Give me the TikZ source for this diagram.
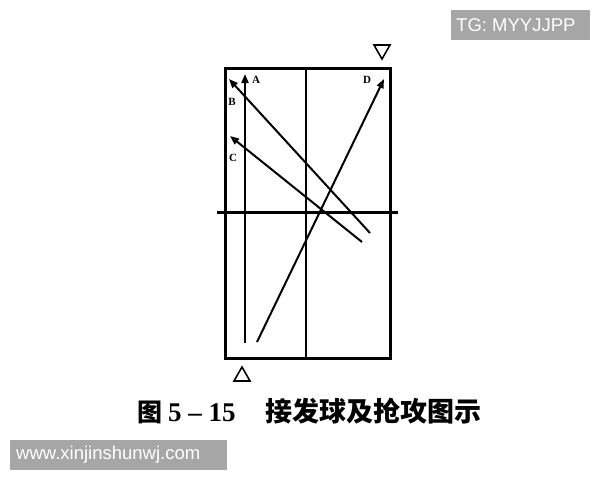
\documentclass[tikz,border=0pt]{standalone}
\usepackage{fontspec}
\setmainfont{Liberation Serif}
\newfontfamily\cjk{Noto Sans CJK SC}
\newfontfamily\wm{Liberation Sans}
\usetikzlibrary{arrows.meta}
\tikzset{
  shot/.style={line width=2pt,-{Triangle[length=9pt,width=7pt]}},
  lbl/.style={font=\bfseries\fontsize{11}{11}\selectfont,inner sep=0pt},
  wmbox/.style={text=white,font=\wm\fontsize{18.5}{18.5}\selectfont,inner sep=0pt,anchor=west}
}
\begin{document}
\begin{tikzpicture}[x=1pt,y=-1pt]
\useasboundingbox (0,0) rectangle (600,480);
% table
\draw[line width=3pt] (225,68) rectangle (390,358);
\draw[line width=1.6pt] (306,68) -- (306,358);
\draw[line width=3pt] (217,212) -- (398,212);
% markers
\draw[line width=1.6pt] (374,45) -- (390,45) -- (382,59) -- cycle;
\draw[line width=1.6pt] (234,381) -- (250,381) -- (242,367) -- cycle;
% coordinates
\coordinate (a0) at (245,343);
\coordinate (a1) at (245,74);
\coordinate (b0) at (370,233);
\coordinate (b1) at (229,79);
\coordinate (c0) at (362,242);
\coordinate (c1) at (230,136);
\coordinate (d0) at (257,342);
\coordinate (d1) at (384,79);
\draw[shot] (a0) -- (a1);
\draw[shot] (b0) -- (b1);
\draw[shot] (c0) -- (c1);
\draw[shot] (d0) -- (d1);
\node[lbl] (la) at (256,80) {A};
\node[lbl] (lb) at (232,102) {B};
\node[lbl] (lc) at (233,158) {C};
\node[lbl] (ld) at (367,80) {D};
% caption
\node[inner sep=0pt,anchor=west] (cap) at (137,411) {{\cjk\bfseries\fontsize{25}{25}\selectfont 图}\hspace{6pt}{\bfseries\fontsize{27}{27}\selectfont 5 – 15}\hspace{30pt}{\cjk\bfseries\fontsize{27}{27}\selectfont 接发球及抢攻图示}};
% watermarks
\fill[black!35] (451,10) rectangle (590,40);
\node[wmbox] (w1) at (456,25) {TG: MYYJJPP};
\fill[black!35] (10,440) rectangle (227,470);
\node[wmbox] (w2) at (16,455) {www.xinjinshunwj.com};
\end{tikzpicture}
\end{document}
